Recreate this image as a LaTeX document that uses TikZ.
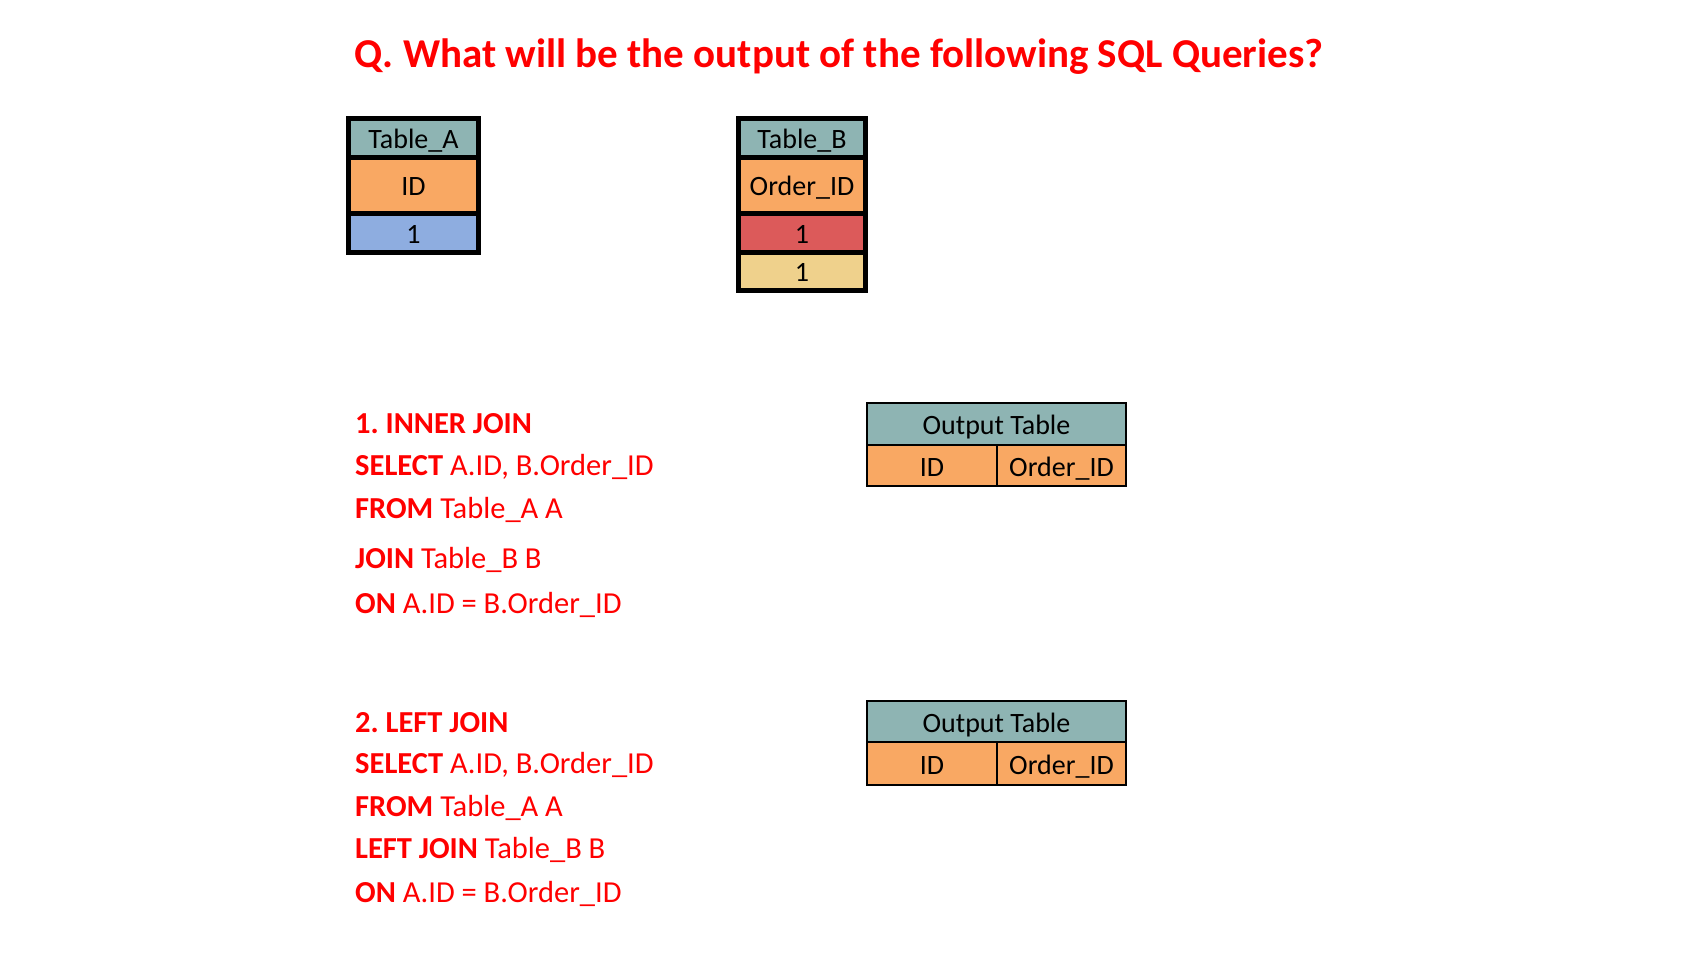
\documentclass[tikz,border=0pt]{standalone}
\usepackage{fontspec}
\setmainfont{Carlito}
\definecolor{hdr}{HTML}{8EB4B3}
\definecolor{org}{HTML}{F9A863}
\definecolor{blu}{HTML}{8EADE0}
\definecolor{rdc}{HTML}{DC5A5A}
\definecolor{yel}{HTML}{EFD18C}
\definecolor{qred}{HTML}{FF0000}
\tikzset{
  cell/.style={draw=black, inner sep=0pt, text height=21pt, text depth=0pt, font=\fontsize{28}{32}\selectfont, text=black},
  thickcell/.style={cell, line width=5pt},
  thincell/.style={cell, line width=2pt},
  sql/.style={anchor=base west, inner sep=0pt, text=qred, font=\fontsize{30.5}{34}\selectfont},
}
\begin{document}
\frenchspacing
\begin{tikzpicture}[x=1pt, y=-1pt]
\useasboundingbox (0,0) rectangle (1700,956);
% title
\node[anchor=base, inner sep=0pt, text=qred, font=\fontsize{41}{46}\selectfont\bfseries] (title) at (839,67) {Q. What will be the output of the following SQL Queries?};

% Table_A
\node[thickcell, fill=hdr, minimum width=130pt, minimum height=38.5pt] (ah) at (413.5,137.75) {Table\_A};
\node[thickcell, fill=org, minimum width=130pt, minimum height=56pt] (aid) at (413.5,185) {ID};
\node[thickcell, fill=blu, minimum width=130pt, minimum height=39.5pt] (a1) at (413.5,232.75) {1};

% Table_B
\node[thickcell, fill=hdr, minimum width=127pt, minimum height=38.5pt] (bh) at (802,137.75) {Table\_B};
\node[thickcell, fill=org, minimum width=127pt, minimum height=56pt] (bid) at (802,185) {Order\_ID};
\node[thickcell, fill=rdc, minimum width=127pt, minimum height=39pt] (b1) at (802,232.5) {1};
\node[thickcell, fill=yel, minimum width=127pt, minimum height=38.5pt] (b2) at (802,271.25) {1};

% Output table 1
\node[thincell, fill=hdr, minimum width=259pt, minimum height=42pt] (o1h) at (996.5,424) {Output Table};
\node[thincell, fill=org, minimum width=130pt, minimum height=41pt] (o1a) at (932,465.5) {ID};
\node[thincell, fill=org, minimum width=129pt, minimum height=41pt] (o1b) at (1061.5,465.5) {Order\_ID};

% Output table 2
\node[thincell, fill=hdr, minimum width=259pt, minimum height=41pt] (o2h) at (996.5,721.5) {Output Table};
\node[thincell, fill=org, minimum width=130pt, minimum height=43pt] (o2a) at (932,763.5) {ID};
\node[thincell, fill=org, minimum width=129pt, minimum height=43pt] (o2b) at (1061.5,763.5) {Order\_ID};

% query 1
\node[sql] (q1a) at (355,433) {\textbf{1. INNER JOIN}};
\node[sql] (q1b) at (355,475) {\textbf{SELECT} A.ID, B.Order\_ID};
\node[sql] (q1c) at (355,518) {\textbf{FROM} Table\_A A};
\node[sql] (q1d) at (355,568) {\textbf{JOIN} Table\_B B};
\node[sql] (q1e) at (355,613) {\textbf{ON} A.ID = B.Order\_ID};

% query 2
\node[sql] (q2a) at (355,732) {\textbf{2. LEFT JOIN}};
\node[sql] (q2b) at (355,773) {\textbf{SELECT} A.ID, B.Order\_ID};
\node[sql] (q2c) at (355,816) {\textbf{FROM} Table\_A A};
\node[sql] (q2d) at (355,858) {\textbf{LEFT JOIN} Table\_B B};
\node[sql] (q2e) at (355,902) {\textbf{ON} A.ID = B.Order\_ID};
\end{tikzpicture}
\end{document}
